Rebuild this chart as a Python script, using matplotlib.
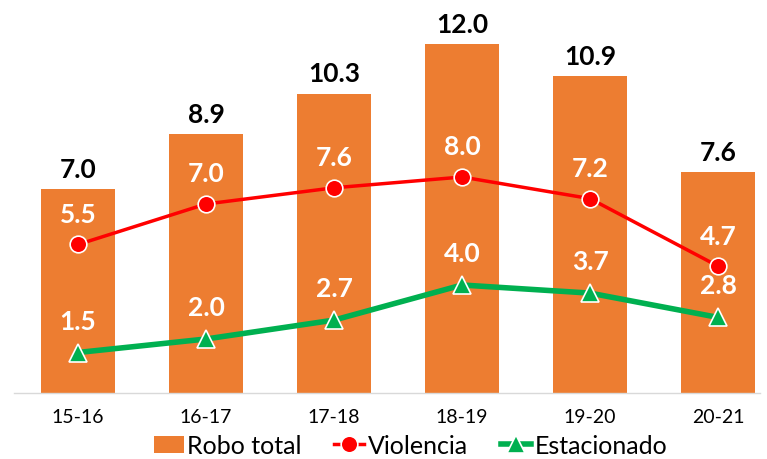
import matplotlib.pyplot as plt
import numpy as np

# data
periodos = ['15-16', '16-17', '17-18', '18-19', '19-20', '20-21']
robo_total = [7.0, 8.9, 10.3, 12.0, 10.9, 7.6]
violencia = [5.5, 7.0, 7.6, 8.0, 7.2, 4.7]
estacionado = [1.5, 2.0, 2.7, 4.0, 3.7, 2.8]

plt.rcParams['font.family'] = ['Lato', 'DejaVu Sans']

W, H = 767, 460
fig = plt.figure(figsize=(W / 100, H / 100), dpi=100)
ax = fig.add_axes([14 / W, 66 / H, 746 / W, 378 / H])
ax2 = ax.twinx()

x = np.arange(len(periodos))
bars = ax.bar(x, robo_total, width=0.58, color='#ED7D31', label='Robo total', zorder=2)
ax.set_ylim(0, 13)
ax.set_xlim(-0.5, 746 / 128 - 0.5)

l1, = ax2.plot(x, violencia, color='#FF0000', lw=2.5, marker='o', ms=12,
               mfc='#FF0000', mec='white', mew=1.2, label='Violencia', zorder=3)
l2, = ax2.plot(x, estacionado, color='#00B050', lw=4, marker='^', ms=13,
               mfc='#00B050', mec='white', mew=1.2, label='Estacionado', zorder=3)
ax2.set_ylim(0, 14)

# labels
for xi, v in zip(x, robo_total):
    ax.annotate(f'{v:.1f}', (xi, v), xytext=(0, 6), textcoords='offset points',
                ha='center', va='bottom', fontsize=19, fontweight='bold', color='black')
for xi, v in zip(x, violencia):
    ax2.annotate(f'{v:.1f}', (xi, v), xytext=(0, 22), textcoords='offset points',
                 ha='center', va='center', fontsize=19, fontweight='bold', color='white')
for xi, v in zip(x, estacionado):
    ax2.annotate(f'{v:.1f}', (xi, v), xytext=(0, 23), textcoords='offset points',
                 ha='center', va='center', fontsize=19, fontweight='bold', color='white')

for a in (ax, ax2):
    for s in ['top', 'right', 'left']:
        a.spines[s].set_visible(False)
    a.set_yticks([])
ax2.spines['bottom'].set_visible(False)
ax.spines['bottom'].set_color('#D9D9D9')
ax.spines['bottom'].set_linewidth(1)

ax.set_xticks(x)
ax.set_xticklabels(periodos, fontsize=14)
ax.tick_params(axis='x', length=0, pad=11)

fig.legend(handles=[bars, l1, l2], loc='lower center', bbox_to_anchor=(0.535, -0.045),
           ncol=3, frameon=False, handlelength=1.2, handletextpad=0.15,
           columnspacing=1.3, prop={'size': 18})

fig.savefig('out.png', dpi=100)
